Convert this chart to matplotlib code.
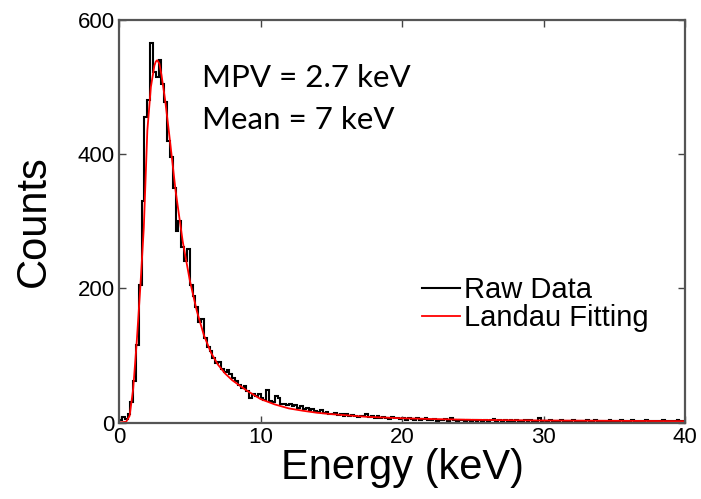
import numpy as np
import matplotlib
matplotlib.use("Agg")
import matplotlib.pyplot as plt

# raw histogram, 0.2 keV bins from 0 to 40 keV
bin_edges = np.arange(0, 40.0001, 0.2)
raw_counts = [
    3, 8, 5, 12, 30, 62, 115, 205, 330, 455,
    480, 565, 522, 515, 540, 505, 478, 420, 395, 350,
    285, 300, 262, 240, 258, 205, 188, 172, 150, 155,
    126, 112, 106, 96, 88, 90, 80, 76, 78, 72,
    66, 62, 56, 52, 55, 47, 37, 42, 40, 42,
    36, 34, 48, 32, 30, 40, 36, 28, 27, 26,
    28, 24, 26, 22, 25, 20, 22, 18, 20, 17,
    16, 18, 14, 15, 13, 12, 14, 11, 13, 10,
    12, 9, 11, 10, 8, 10, 9, 12, 8, 9,
    7, 9, 6, 8, 7, 5, 8, 6, 7, 5,
    6, 4, 7, 5, 3, 6, 4, 5, 6, 3,
    4, 5, 2, 4, 3, 5, 2, 6, 3, 2,
    3, 4, 2, 3, 2, 3, 2, 4, 2, 3,
    2, 3, 5, 2, 3, 2, 3, 2, 4, 2,
    3, 2, 2, 3, 2, 3, 2, 2, 6, 2,
    2, 2, 3, 2, 2, 2, 4, 2, 2, 2,
    3, 2, 2, 2, 2, 4, 2, 2, 3, 2,
    2, 2, 2, 3, 2, 2, 2, 4, 2, 2,
    2, 3, 2, 2, 2, 2, 3, 2, 2, 2,
    2, 2, 4, 2, 2, 2, 2, 3, 2, 2,
]

# Landau fit
fit_energy = [0, 0.5, 0.75, 1.0, 1.25, 1.5, 1.75, 2.0, 2.25, 2.5, 2.6, 2.7, 2.85,
              3.0, 3.25, 3.5, 3.75, 4.0, 4.5, 5.0, 5.5, 6.0, 6.5, 7.0, 7.5, 8.0,
              9.0, 10.0, 11.0, 12.0, 13.0, 14.0, 15.0, 17.5, 20.0, 22.5, 25.0,
              30.0, 35.0, 40.0]
fit_counts = [0, 1, 10, 50, 120, 200, 290, 435, 500, 532, 538, 540, 535,
              518, 482, 438, 392, 345, 270, 212, 166, 130, 104, 86, 73, 63,
              48, 35, 27, 21, 17.5, 14.5, 12.5, 8.5, 6.3, 5, 4,
              3, 2.5, 2]

fig = plt.figure(figsize=(7.01, 4.99), dpi=100)
ax = fig.add_axes([0.1698, 0.1533, 0.8074, 0.8067])

ax.stairs(raw_counts, bin_edges, color="black", lw=1.5, label="Raw Data")
ax.plot(fit_energy, fit_counts, color="#ff0000", lw=1.3, label="Landau Fitting")

ax.set_xlim(0, 40)
ax.set_ylim(0, 600)
ax.set_xticks([0, 10, 20, 30, 40])
ax.set_yticks([0, 200, 400, 600])
ax.tick_params(direction="in", length=5, width=1, top=True, right=True,
               labelsize=16, pad=3, colors="#444444", labelcolor="black")
for sp in ax.spines.values():
    sp.set_color("#555555")
    sp.set_linewidth(1.6)

ax.set_xlabel("Energy (keV)", fontsize=30, family="Liberation Sans", labelpad=0)
ax.set_ylabel("Counts", fontsize=30, family="Liberation Sans", labelpad=17)
for t in ax.get_xticklabels() + ax.get_yticklabels():
    t.set_family("Liberation Sans")

ax.text(0.146, 0.833, "MPV = 2.7 keV", transform=ax.transAxes, fontsize=22.5,
        family="Lato", va="baseline")
ax.text(0.146, 0.73, "Mean = 7 keV", transform=ax.transAxes, fontsize=22.5,
        family="Lato", va="baseline")

ax.legend(loc="center left", bbox_to_anchor=(0.535, 0.294), frameon=False,
          prop={"family": "Liberation Sans", "size": 21}, handlelength=1.3,
          handletextpad=0.15, labelspacing=0.0, borderpad=0, borderaxespad=0)

fig.savefig("out.png", dpi=100)
